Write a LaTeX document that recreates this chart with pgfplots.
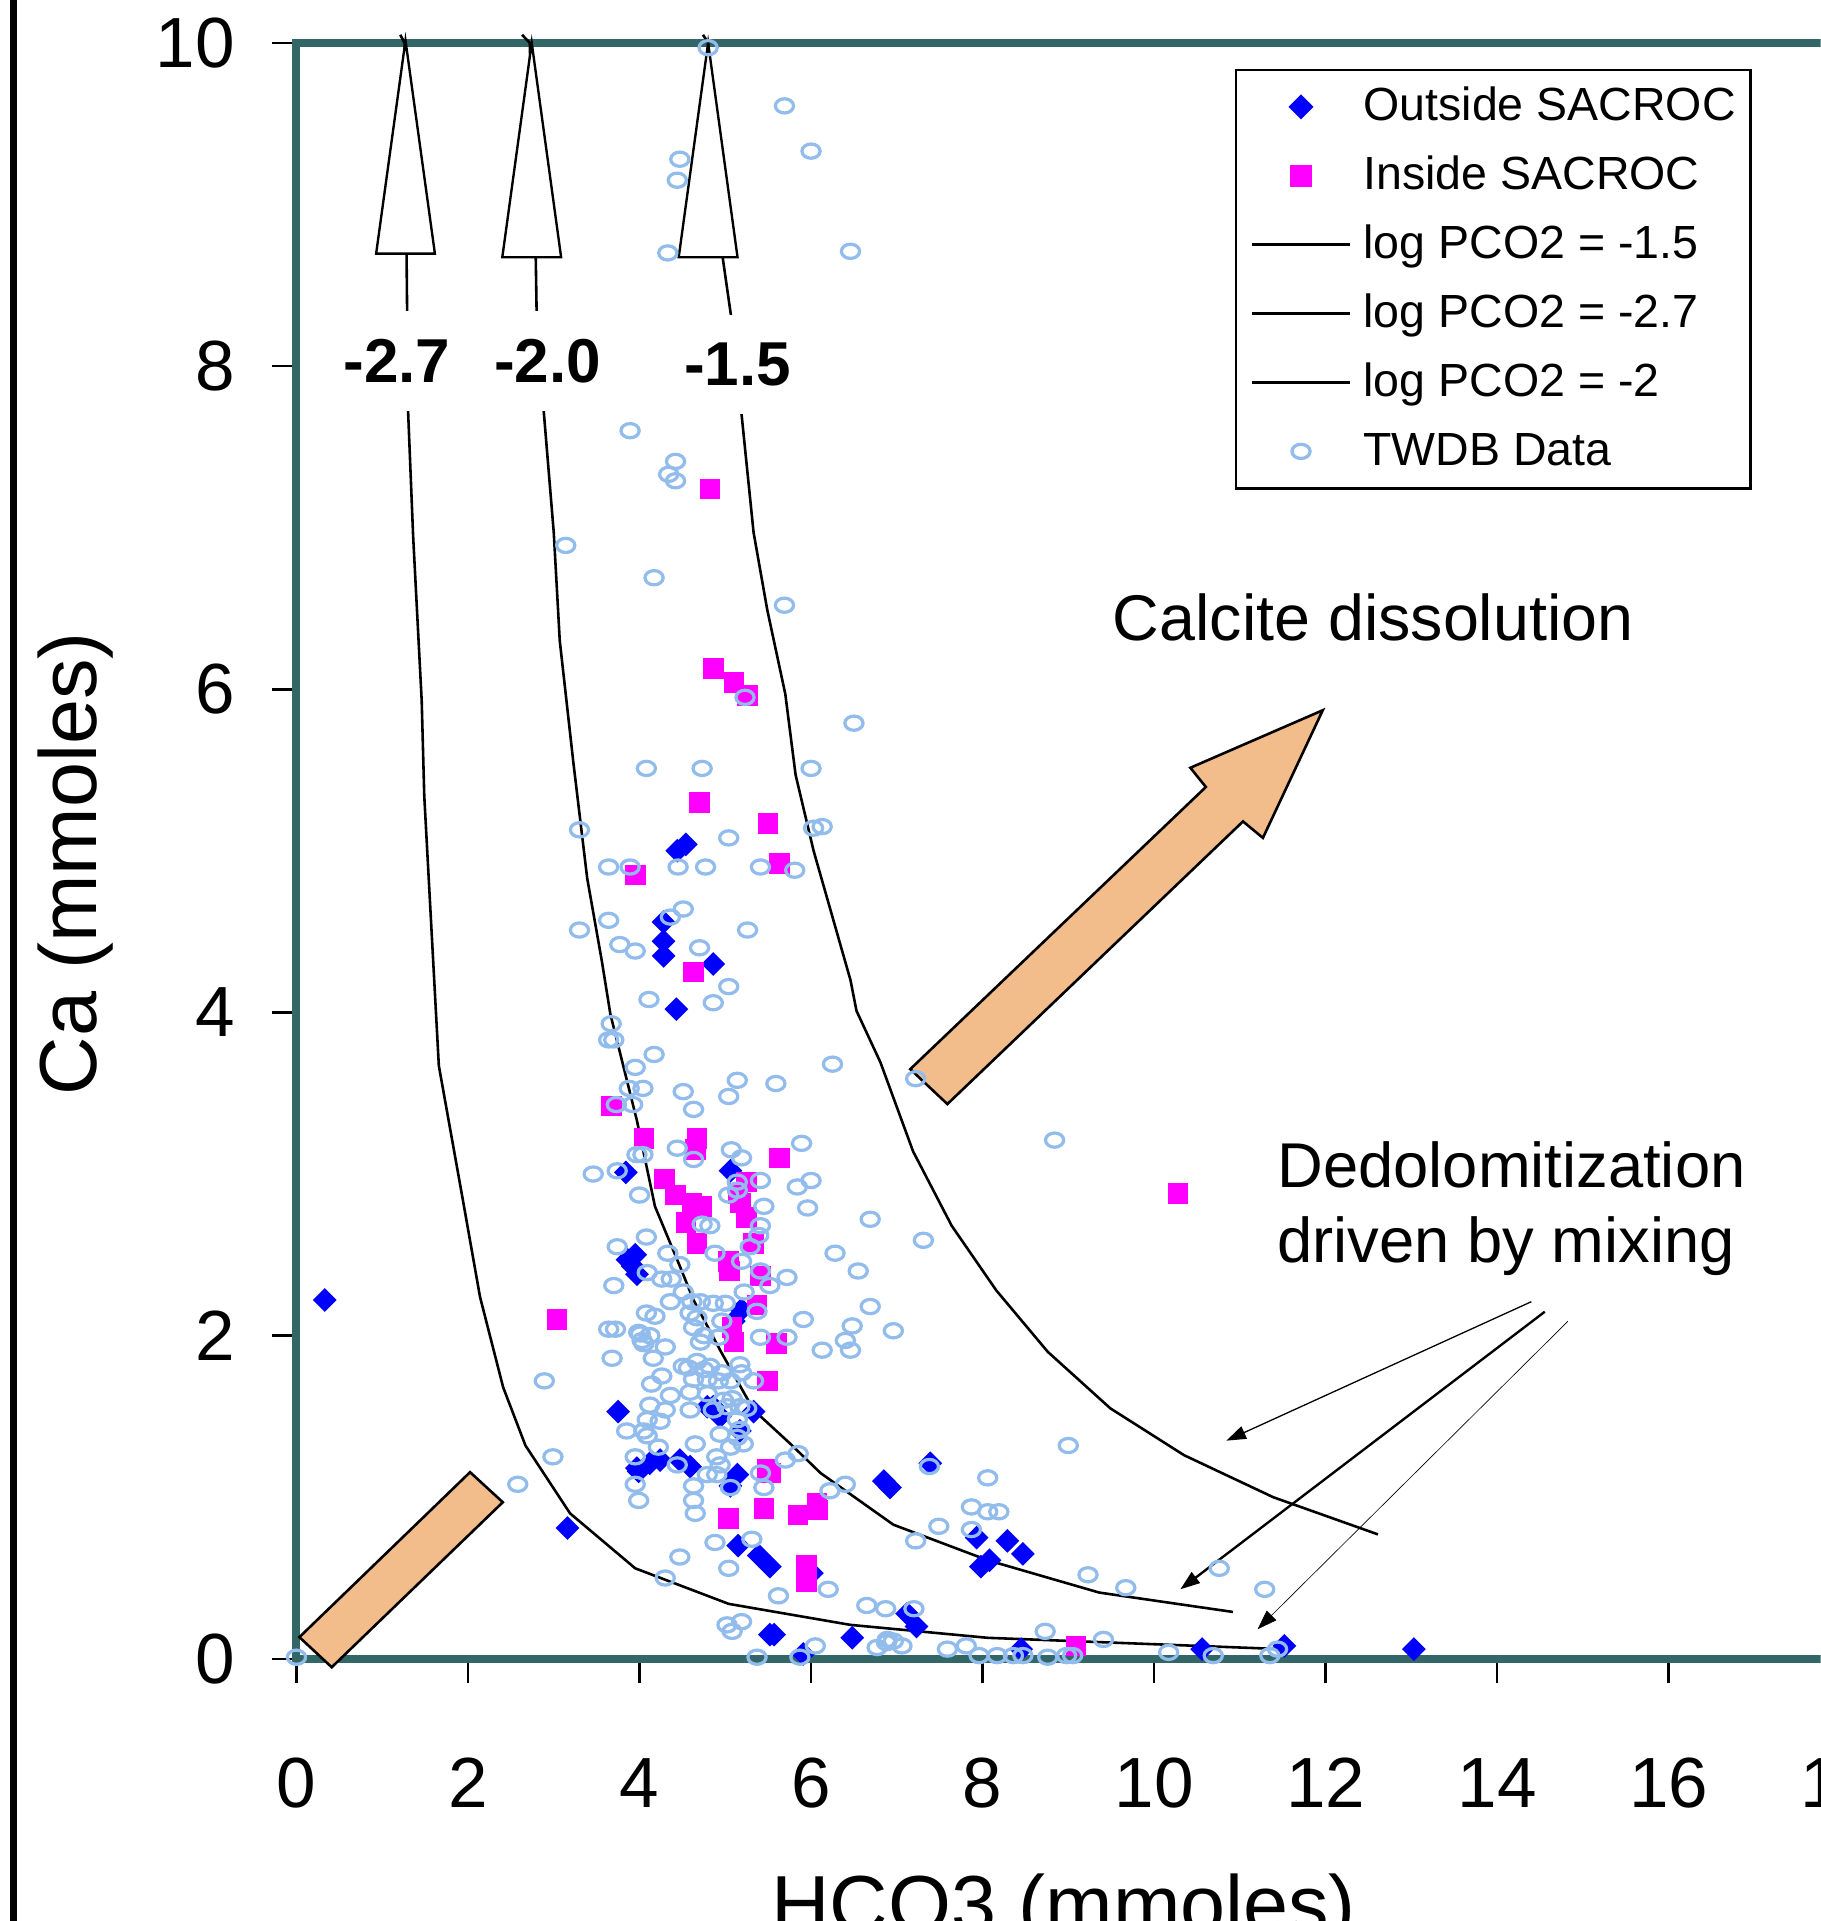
\documentclass[border=0pt]{standalone}
\usepackage{fontspec}
\setmainfont{Liberation Sans}
\usepackage{pgfplots}
\pgfplotsset{compat=1.18}
\usetikzlibrary{arrows.meta}
\definecolor{axteal}{RGB}{51,102,102}
\definecolor{twdb}{RGB}{145,188,236}
\definecolor{mag}{RGB}{255,0,255}
\definecolor{dblue}{RGB}{0,0,255}
\definecolor{tanfill}{RGB}{243,188,139}

\begin{document}
\begin{tikzpicture}
\useasboundingbox (-2.42,-2.14) rectangle (12.44,13.54);
\clip (-2.42,-2.14) rectangle (12.44,13.54);
\draw[black,line width=0.05cm] (-2.31,-2.2) -- (-2.31,13.6);
\begin{axis}[
  at={(0,0)}, anchor=south west,
  scale only axis, width=12.6cm, height=13.19cm,
  xmin=0, xmax=18, ymin=0, ymax=10,
  xtick={0,2,...,18}, ytick={0,2,...,10},
  tick pos=left, tick align=outside,
  major tick length=0.2cm,
  every tick/.style={black, line width=0.6pt},
  axis line style={axteal, line width=0.065cm},
  clip=false,
  /pgf/number format/assume math mode=true,
  ticklabel style={font=\fontsize{16.5}{19}\selectfont},
  xticklabel style={anchor=base, yshift=-1.01cm},
  yticklabel style={anchor=east, xshift=-0.18cm},
  xlabel={HCO3 (mmoles)}, ylabel={Ca (mmoles)},
  xlabel style={at={(axis description cs:0.497,0)}, anchor=base, yshift=-2.235cm, font=\fontsize{18.8}{22}\selectfont},
  ylabel style={at={(axis description cs:-0.1429,0.492)}, anchor=center, font=\fontsize{18.8}{22}\selectfont},
  legend style={at={(0.6078,0.984)}, anchor=north west, draw=black, line width=0.6pt, fill=white,
     font=\fontsize{10.8}{13}\selectfont, inner xsep=0.12cm, inner ysep=0.02cm, row sep=0pt,
     nodes={inner xsep=0pt, inner ysep=2.3pt, text height=8.9pt, text depth=2.5pt},
     /tikz/every odd column/.style={column sep=0.1cm}},
  legend cell align=left,
  legend image code/.code={\draw[mark repeat=2,mark phase=2,#1] plot coordinates {(0cm,0cm) (0.40cm,0cm) (0.80cm,0cm)};},
]
% Outside SACROC
\addplot[only marks, color=dblue, mark=diamond*, mark size=0.087cm, mark options={xscale=1.333, draw=dblue, fill=dblue}] coordinates {
(0.33,2.22)(3.16,0.81)(4.44,5.00)(4.54,5.04)(4.28,4.56)(4.28,4.44)(4.28,4.35)(4.86,4.30)(4.43,4.02)(3.84,3.01)(5.06,3.02)(3.86,2.47)(3.95,2.50)(3.97,2.38)(3.92,2.43)(5.19,2.16)(5.10,2.09)(3.75,1.53)(4.86,1.56)(4.79,1.56)(5.33,1.53)(5.17,1.41)(4.94,1.50)(3.97,1.18)(4.12,1.21)(4.24,1.23)(3.99,1.16)(4.47,1.23)(4.59,1.19)(5.14,1.14)(5.06,1.07)(6.85,1.10)(6.92,1.06)(7.39,1.21)(5.15,0.70)(5.39,0.64)(5.52,0.57)(6.01,0.53)(5.52,0.15)(5.57,0.15)(6.48,0.13)(7.12,0.28)(7.23,0.20)(5.91,0.03)(7.93,0.75)(8.29,0.73)(8.47,0.65)(7.98,0.57)(8.08,0.61)(8.45,0.06)(10.56,0.06)(11.52,0.08)(13.03,0.06)
};
\addlegendentry{Outside SACROC}
% Inside SACROC
\addplot[only marks, color=mag, mark=square*, mark size=0.077cm, mark options={draw=mag, fill=mag}] coordinates {
(4.82,7.24)(4.86,6.13)(5.10,6.04)(5.26,5.96)(4.70,5.30)(5.50,5.17)(5.63,4.92)(3.95,4.85)(4.63,4.25)(3.67,3.42)(4.05,3.22)(4.67,3.22)(4.65,3.15)(5.63,3.10)(4.29,2.97)(4.42,2.87)(4.61,2.82)(4.73,2.80)(4.54,2.70)(4.67,2.57)(5.25,2.95)(5.15,2.88)(5.18,2.82)(5.25,2.73)(5.33,2.57)(5.04,2.46)(5.05,2.40)(5.41,2.37)(5.37,2.19)(5.08,2.05)(5.10,1.96)(5.60,1.95)(3.04,2.10)(5.49,1.72)(5.49,1.17)(5.53,1.15)(5.04,0.87)(5.45,0.93)(5.85,0.89)(6.07,0.96)(6.08,0.92)(5.95,0.58)(5.95,0.48)(10.28,2.88)(9.09,0.08)
};
\addlegendentry{Inside SACROC}
% log PCO2 = -1.5
\addplot[black, line width=0.6pt, mark=none] coordinates {
(4.74,10.05)(4.80,10.00)(4.97,8.67)(5.07,8.30)(5.19,7.70)(5.33,6.97)(5.49,6.49)(5.70,5.97)(5.82,5.47)(6.03,5.00)(6.46,4.20)(6.53,4.01)(6.81,3.69)(7.19,3.14)(7.64,2.68)(8.16,2.28)(8.76,1.90)(9.49,1.55)(10.35,1.26)(11.39,1.00)(12.61,0.77)
};
\addlegendentry{log PCO2 = -1.5}
% log PCO2 = -2.7
\addplot[black, line width=0.6pt, mark=none] coordinates {
(1.21,10.05)(1.26,10.00)(1.29,8.34)(1.30,7.74)(1.36,6.95)(1.46,5.93)(1.49,5.34)(1.66,3.67)(1.94,2.84)(2.14,2.24)(2.41,1.68)(2.67,1.32)(3.19,0.90)(3.95,0.56)(5.04,0.34)(6.46,0.21)(8.06,0.13)(11.49,0.06)
};
\addlegendentry{log PCO2 = -2.7}
% log PCO2 = -2
\addplot[black, line width=0.6pt, mark=none] coordinates {
(2.63,10.05)(2.72,10.00)(2.79,8.67)(2.80,8.34)(2.88,7.74)(3.00,6.97)(3.07,6.30)(3.23,5.54)(3.39,4.83)(3.56,4.32)(3.66,3.99)(3.97,3.33)(4.18,2.80)(4.47,2.43)(4.63,2.22)(4.94,1.91)(5.33,1.54)(5.76,1.33)(6.11,1.15)(6.96,0.83)(8.06,0.61)(9.36,0.41)(10.92,0.29)
};
\addlegendentry{log PCO2 = -2}
% white arrows and labels
\filldraw[fill=white, draw=black, line width=0.55pt] (axis cs:0.929,8.696) -- (axis cs:1.271,10.015) -- (axis cs:1.614,8.696) -- cycle;
\filldraw[fill=white, draw=black, line width=0.55pt] (axis cs:2.40,8.673) -- (axis cs:2.743,10.0) -- (axis cs:3.086,8.673) -- cycle;
\filldraw[fill=white, draw=black, line width=0.55pt] (axis cs:4.457,8.673) -- (axis cs:4.80,10.0) -- (axis cs:5.143,8.673) -- cycle;
\node[fill=white, inner xsep=0.05cm, inner ysep=0.23cm, font=\bfseries\fontsize{14.4}{17}\selectfont] at (axis cs:1.171,8.03) {-2.7};
\node[fill=white, inner xsep=0.05cm, inner ysep=0.23cm, font=\bfseries\fontsize{14.4}{17}\selectfont] at (axis cs:2.929,8.03) {-2.0};
\node[fill=white, inner xsep=0.05cm, inner ysep=0.23cm, font=\bfseries\fontsize{14.4}{17}\selectfont] at (axis cs:5.143,8.01) {-1.5};
% TWDB Data
\addplot[only marks, color=twdb, mark=o, mark size=0.058cm, mark options={xscale=1.28, line width=0.75pt}] coordinates {
(4.80,9.97)(5.69,9.61)(6.00,9.33)(4.47,9.28)(4.44,9.15)(4.33,8.70)(6.46,8.71)(3.89,7.60)(4.42,7.41)(4.34,7.33)(4.42,7.29)(3.14,6.89)(4.17,6.69)(5.69,6.52)(5.23,5.95)(6.50,5.79)(4.08,5.51)(4.73,5.51)(6.00,5.51)(3.30,5.13)(5.04,5.08)(6.03,5.14)(6.13,5.15)(3.64,4.90)(3.89,4.90)(4.45,4.90)(4.77,4.90)(5.41,4.90)(5.81,4.88)(3.30,4.51)(3.64,4.57)(4.51,4.64)(4.36,4.59)(3.77,4.42)(3.95,4.38)(4.70,4.40)(5.26,4.51)
(5.04,4.16)(4.86,4.06)(4.11,4.08)(3.67,3.93)(3.64,3.83)(3.70,3.83)(4.17,3.74)(3.95,3.66)(3.88,3.53)(4.04,3.53)(3.73,3.43)(3.92,3.43)(4.51,3.51)(4.63,3.40)(5.04,3.48)(5.14,3.58)(5.59,3.56)(6.25,3.68)(7.22,3.59)(4.44,3.16)(4.63,3.09)(3.97,3.12)(4.04,3.12)(5.07,3.15)(5.19,3.10)(5.89,3.19)(3.46,3.00)(3.74,3.02)(5.14,2.95)(5.41,2.96)(5.84,2.92)(6.00,2.96)(5.04,2.87)(5.14,2.90)(4.00,2.87)(5.45,2.80)(5.96,2.79)(6.69,2.72)(4.73,2.69)(4.82,2.68)(5.41,2.68)(5.39,2.62)(7.31,2.59)(5.29,2.55)(4.08,2.61)(3.74,2.55)(4.33,2.51)(4.47,2.44)(4.88,2.51)(5.19,2.46)(5.41,2.40)(5.72,2.36)(6.28,2.51)(6.55,2.40)(4.26,2.35)(4.37,2.35)(3.70,2.31)(4.51,2.27)(5.22,2.27)(5.52,2.31)(4.36,2.21)(4.61,2.21)(4.71,2.21)(4.86,2.20)(5.00,2.20)(6.69,2.18)(5.37,2.15)(4.08,2.14)(4.18,2.12)(4.59,2.14)(4.67,2.11)(3.64,2.04)(3.72,2.04)(4.96,2.09)(5.91,2.10)(6.48,2.06)(6.96,2.03)(4.01,2.01)(4.12,2.00)(4.63,2.05)(4.75,2.00)(4.92,1.99)(5.41,1.99)(5.72,1.99)(6.40,1.97)(6.13,1.91)(6.46,1.91)(4.30,1.93)(4.71,1.96)(4.05,1.95)(3.68,1.86)
(2.89,1.72)(2.99,1.25)(2.58,1.08)(4.09,2.39)(3.99,2.02)(4.03,1.97)(4.16,1.86)(4.26,1.75)(4.51,1.81)(4.14,1.70)(4.36,1.63)(4.12,1.57)(4.30,1.54)(4.59,1.54)(3.85,1.41)(4.05,1.41)(4.09,1.38)(4.22,1.31)(3.95,1.25)(4.44,1.20)(3.95,1.08)(3.99,0.98)(4.65,0.90)(4.47,0.63)(4.30,0.50)(0.00,0.01)
(4.57,1.80)(4.67,1.84)(4.75,1.79)(4.82,1.81)(4.96,1.77)(5.17,1.82)(5.19,1.77)(5.33,1.72)(4.63,1.73)(4.79,1.73)(4.92,1.72)(5.06,1.72)(4.59,1.65)(4.79,1.64)(4.86,1.54)(4.98,1.60)(5.08,1.61)(5.17,1.56)(5.25,1.55)(5.02,1.56)(4.09,1.48)(4.24,1.47)(5.14,1.48)(5.17,1.42)(4.94,1.39)(5.14,1.37)(5.21,1.33)(4.65,1.33)(4.90,1.25)(5.06,1.31)(5.70,1.23)(5.85,1.27)(4.79,1.14)(4.90,1.14)(4.94,1.20)(5.06,1.06)(4.63,1.07)(4.63,0.98)(5.45,1.06)(5.41,1.15)(6.22,1.04)(6.40,1.08)(4.88,0.72)(5.31,0.74)(5.04,0.56)(5.62,0.39)(6.20,0.43)(6.65,0.33)(6.87,0.31)(7.22,0.73)(7.20,0.31)(7.49,0.82)(5.02,0.21)(5.19,0.23)(5.08,0.17)(5.37,0.01)(5.87,0.01)(6.05,0.08)(6.77,0.07)(6.88,0.10)(6.96,0.11)(7.06,0.08)
(8.84,3.21)(9.00,1.32)(7.38,1.19)(8.06,1.12)(7.87,0.94)(8.06,0.91)(8.19,0.91)(7.87,0.80)(9.23,0.52)(9.67,0.44)(10.76,0.56)(11.29,0.43)(8.73,0.17)(9.41,0.12)(6.89,0.12)(7.59,0.06)(7.81,0.08)(7.96,0.02)(8.17,0.02)(8.36,0.02)(8.47,0.02)(8.76,0.01)(8.98,0.02)(9.05,0.02)(10.17,0.04)(10.69,0.02)(11.35,0.02)(11.44,0.06)
};
\addlegendentry{TWDB Data}
% orange block arrows
\filldraw[fill=tanfill, draw=black, line width=0.6pt] (axis cs:7.157,3.649) -- (axis cs:10.604,5.395) -- (axis cs:10.423,5.514) -- (axis cs:11.967,5.870) -- (axis cs:11.269,5.080) -- (axis cs:11.037,5.182) -- (axis cs:7.59,3.433) -- cycle;
\filldraw[fill=tanfill, draw=black, line width=0.6pt] (axis cs:0.034,0.134) -- (axis cs:2.024,1.155) -- (axis cs:2.406,0.969) -- (axis cs:0.411,-0.052) -- cycle;
% thin arrows
\draw[black, line width=0.3pt, -{Triangle[length=0.16cm,width=0.11cm]}] (axis cs:14.399,2.210) -- (axis cs:10.843,1.350);
\draw[black, line width=0.55pt, -{Triangle[length=0.16cm,width=0.11cm]}] (axis cs:14.556,2.148) -- (axis cs:10.306,0.430);
\draw[black, line width=0.15pt, -{Triangle[length=0.16cm,width=0.11cm]}] (axis cs:14.826,2.089) -- (axis cs:11.207,0.183);
% texts
\node[anchor=base west, inner sep=0pt, font=\fontsize{15}{18}\selectfont] at (axis cs:9.51,6.30) {Calcite dissolution};
\node[anchor=base west, inner sep=0pt, font=\fontsize{14.7}{18}\selectfont] at (axis cs:11.43,2.916) {Dedolomitization};
\node[anchor=base west, inner sep=0pt, font=\fontsize{14.7}{18}\selectfont] at (axis cs:11.43,2.451) {driven by mixing};
\end{axis}
\end{tikzpicture}
\end{document}
